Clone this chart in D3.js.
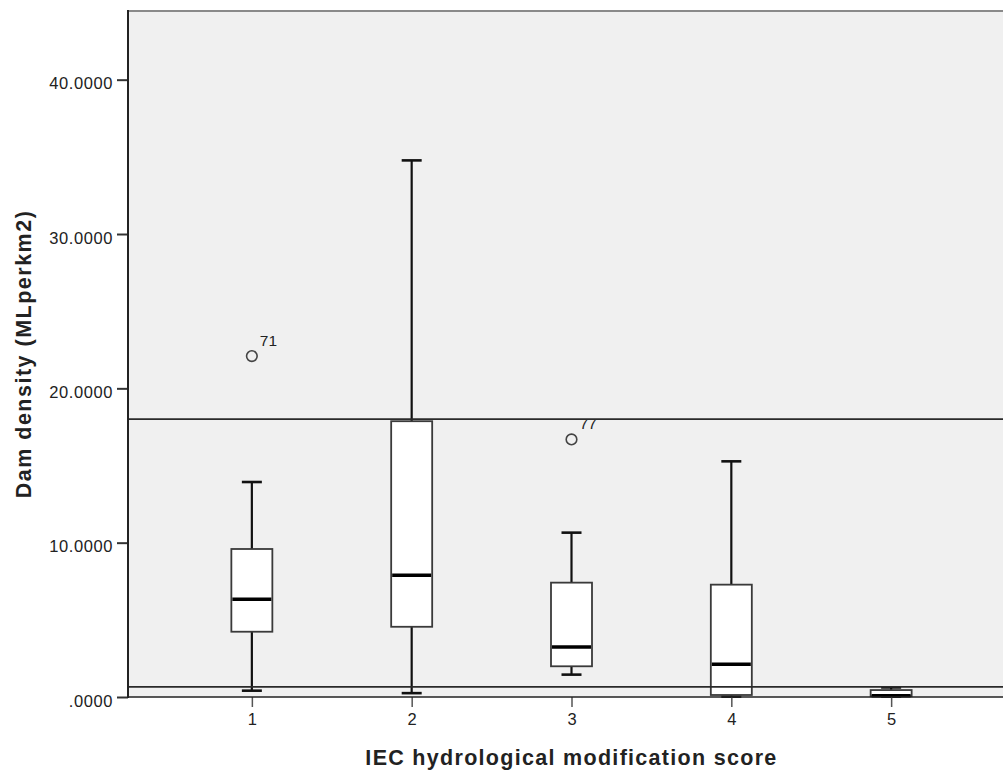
<!DOCTYPE html>
<html>
<head>
<meta charset="utf-8">
<script src="https://cdn.jsdelivr.net/npm/d3@7"></script>
<style>
  html, body { margin: 0; padding: 0; background: #ffffff; }
  svg { display: block; }
  text { font-family: "Liberation Sans", Arial, sans-serif; fill: #222; }
</style>
</head>
<body>
<svg id="chart" width="1003" height="771"></svg>
<script>
// Dam density by IEC hydrological modification score (box plot summary)
const categories   = ["1", "2", "3", "4", "5"];
const whiskerLow   = [0.41, 0.25, 1.45, 0.02, 0.02];
const quartile1    = [4.23, 4.55, 1.99, 0.13, 0.05];
const medians      = [6.34, 7.89, 3.24, 2.12, 0.08];
const quartile3    = [9.59, 17.87, 7.41, 7.28, 0.45];
const whiskerHigh  = [13.93, 34.77, 10.65, 15.27, 0.62];

const outlierCategory = ["1", "3"];
const outlierValues   = [22.09, 16.69];
const outlierLabels   = ["71", "77"];

const referenceLines = [18.0, 0.65];

const yTickValues = [0, 10, 20, 30, 40];
const yTickLabels = [".0000", "10.0000", "20.0000", "30.0000", "40.0000"];

const xTitle = "IEC hydrological modification score";
const yTitle = "Dam density (MLperkm2)";

const svg = d3.select("#chart");

const plot = { left: 128, top: 11, right: 1015, bottom: 697 };

const x = d3.scalePoint()
  .domain(categories)
  .range([plot.left, plot.right])
  .padding(0.775);

const y = d3.scaleLinear()
  .domain([0, 44.45])
  .range([plot.bottom, plot.top]);

const boxes = categories.map((c, i) => ({
  cat: c,
  lo: whiskerLow[i], q1: quartile1[i], med: medians[i],
  q3: quartile3[i], hi: whiskerHigh[i]
}));

const outliers = outlierCategory.map((c, i) => ({
  cat: c, value: outlierValues[i], label: outlierLabels[i]
}));

// plot background
svg.append("rect")
  .attr("x", plot.left).attr("y", plot.top)
  .attr("width", plot.right - plot.left)
  .attr("height", plot.bottom - plot.top)
  .attr("fill", "#f0f0f0");

// top frame line
svg.append("line")
  .attr("x1", plot.left).attr("x2", plot.right)
  .attr("y1", plot.top).attr("y2", plot.top)
  .attr("stroke", "#8a8a8a").attr("stroke-width", 2);

const boxWidth = 41;
const capWidth = 20;

const g = svg.append("g");

const bx = g.selectAll("g.box").data(boxes).join("g").attr("class", "box");

// whiskers
bx.append("line")
  .attr("x1", d => x(d.cat)).attr("x2", d => x(d.cat))
  .attr("y1", d => y(d.q3)).attr("y2", d => y(d.hi))
  .attr("stroke", "#111").attr("stroke-width", 2.2);
bx.append("line")
  .attr("x1", d => x(d.cat)).attr("x2", d => x(d.cat))
  .attr("y1", d => y(d.q1)).attr("y2", d => y(d.lo))
  .attr("stroke", "#111").attr("stroke-width", 2.2);

// whisker caps
bx.append("line")
  .attr("x1", d => x(d.cat) - capWidth / 2).attr("x2", d => x(d.cat) + capWidth / 2)
  .attr("y1", d => y(d.hi)).attr("y2", d => y(d.hi))
  .attr("stroke", "#111").attr("stroke-width", 2.6);
bx.append("line")
  .attr("x1", d => x(d.cat) - capWidth / 2).attr("x2", d => x(d.cat) + capWidth / 2)
  .attr("y1", d => y(d.lo)).attr("y2", d => y(d.lo))
  .attr("stroke", "#111").attr("stroke-width", 2.6);

// boxes
bx.append("rect")
  .attr("x", d => x(d.cat) - boxWidth / 2)
  .attr("width", boxWidth)
  .attr("y", d => y(d.q3))
  .attr("height", d => y(d.q1) - y(d.q3))
  .attr("fill", "#ffffff")
  .attr("stroke", "#3a3a3a").attr("stroke-width", 1.8);

// medians
bx.append("line")
  .attr("x1", d => x(d.cat) - boxWidth / 2 + 1).attr("x2", d => x(d.cat) + boxWidth / 2 - 1)
  .attr("y1", d => y(d.med)).attr("y2", d => y(d.med))
  .attr("stroke", "#000").attr("stroke-width", 3.5);

// outliers
const og = g.selectAll("g.outlier").data(outliers).join("g").attr("class", "outlier");
og.append("circle")
  .attr("cx", d => x(d.cat)).attr("cy", d => y(d.value))
  .attr("r", 5.3)
  .attr("fill", "none").attr("stroke", "#444").attr("stroke-width", 1.6);
og.append("text")
  .attr("x", d => x(d.cat) + 8)
  .attr("y", d => y(d.value) - 10)
  .attr("font-size", 15.5)
  .attr("fill", "#333")
  .text(d => d.label);

// horizontal reference lines
svg.selectAll("line.ref").data(referenceLines).join("line")
  .attr("class", "ref")
  .attr("x1", plot.left).attr("x2", plot.right)
  .attr("y1", d => y(d)).attr("y2", d => y(d))
  .attr("stroke", "#2a2a2a").attr("stroke-width", 1.7);

// y axis
const yAxis = d3.axisLeft(y)
  .tickValues(yTickValues)
  .tickFormat((d, i) => yTickLabels[i])
  .tickSize(11)
  .tickPadding(4);
const yg = svg.append("g")
  .attr("transform", `translate(${plot.left},0)`)
  .call(yAxis);
yg.select(".domain").remove();
yg.selectAll(".tick line").attr("stroke", "#333").attr("stroke-width", 2);
yg.selectAll(".tick text")
  .attr("font-family", "Liberation Sans, Arial, sans-serif")
  .attr("font-size", 16.5)
  .attr("letter-spacing", "0.6px")
  .attr("fill", "#222")
  .attr("dy", "0.55em");

// x axis
const xAxis = d3.axisBottom(x).tickSize(10).tickPadding(6);
const xg = svg.append("g")
  .attr("transform", `translate(0,${plot.bottom})`)
  .call(xAxis);
xg.select(".domain").remove();
xg.selectAll(".tick line").attr("stroke", "#555").attr("stroke-width", 1.5);
xg.selectAll(".tick text")
  .attr("font-family", "Liberation Sans, Arial, sans-serif")
  .attr("font-size", 16.5)
  .attr("fill", "#222");

// axis lines (left and bottom frame)
svg.append("line")
  .attr("x1", plot.left).attr("x2", plot.left)
  .attr("y1", plot.top - 1).attr("y2", plot.bottom + 1)
  .attr("stroke", "#222").attr("stroke-width", 2);
svg.append("line")
  .attr("x1", plot.left).attr("x2", plot.right)
  .attr("y1", plot.bottom).attr("y2", plot.bottom)
  .attr("stroke", "#222").attr("stroke-width", 1.7);

// titles
svg.append("text")
  .attr("x", (plot.left + plot.right) / 2)
  .attr("y", 765)
  .attr("text-anchor", "middle")
  .attr("font-size", 21.5)
  .attr("font-weight", "bold")
  .attr("letter-spacing", "1.3px")
  .attr("fill", "#111")
  .text(xTitle);

svg.append("text")
  .attr("transform", `translate(31,${(plot.top + plot.bottom) / 2}) rotate(-90)`)
  .attr("text-anchor", "middle")
  .attr("font-size", 21.5)
  .attr("font-weight", "bold")
  .attr("letter-spacing", "1.5px")
  .attr("fill", "#111")
  .text(yTitle);
</script>
</body>
</html>
